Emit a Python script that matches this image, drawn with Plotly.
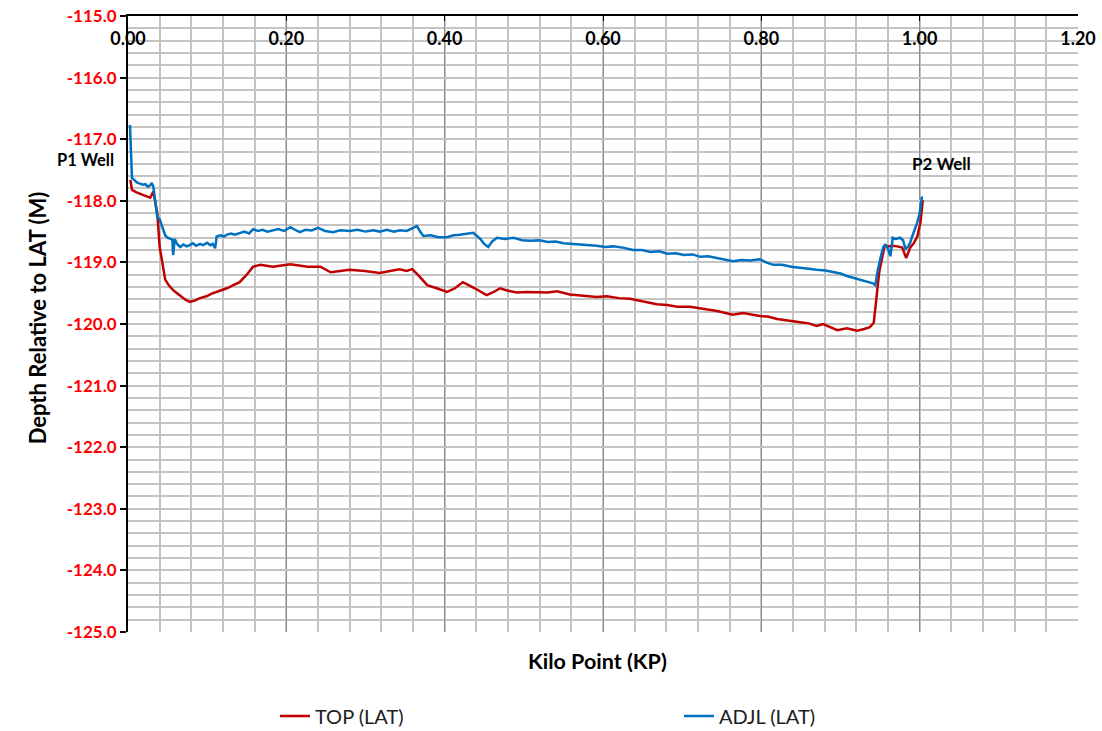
import plotly.graph_objects as go

# ---- data ----
adjl_kp = [0.0025, 0.0038, 0.005, 0.008, 0.011, 0.015, 0.019, 0.022, 0.025, 0.028, 0.030, 0.032,
           0.034, 0.037, 0.040, 0.044, 0.047, 0.050, 0.053, 0.056, 0.057, 0.059, 0.062, 0.066,
           0.070, 0.074, 0.078, 0.082, 0.086, 0.091, 0.095, 0.100, 0.104, 0.107, 0.110, 0.112,
           0.117, 0.121, 0.125, 0.130, 0.135, 0.141, 0.147, 0.153, 0.158, 0.164, 0.170, 0.176,
           0.183, 0.190, 0.197, 0.205, 0.211, 0.217, 0.224, 0.232, 0.240, 0.249, 0.259, 0.268,
           0.280, 0.290, 0.300, 0.310, 0.318, 0.327, 0.336, 0.344, 0.352, 0.360, 0.365, 0.369,
           0.373, 0.382, 0.392, 0.403, 0.411, 0.419, 0.428, 0.436, 0.445, 0.450, 0.455, 0.460,
           0.466, 0.476, 0.487, 0.498, 0.508, 0.520, 0.530, 0.540, 0.550, 0.561, 0.571, 0.582,
           0.592, 0.603, 0.613, 0.625, 0.638, 0.649, 0.660, 0.671, 0.681, 0.692, 0.702, 0.713,
           0.723, 0.733, 0.744, 0.754, 0.764, 0.775, 0.786, 0.798, 0.806, 0.815, 0.826, 0.838,
           0.849, 0.860, 0.870, 0.881, 0.891, 0.900, 0.908, 0.916, 0.926, 0.937, 0.941, 0.944,
           0.947, 0.951, 0.954, 0.957, 0.960, 0.963, 0.966, 0.970, 0.975, 0.979, 0.982, 0.985,
           0.988, 0.990, 0.994, 0.997, 1.000, 1.003]
adjl_lat = [-116.77, -117.20, -117.63, -117.66, -117.70, -117.72, -117.74, -117.73, -117.77, -117.75, -117.71, -117.77,
            -117.95, -118.26, -118.30, -118.45, -118.56, -118.60, -118.62, -118.63, -118.88, -118.62, -118.70, -118.75,
            -118.71, -118.74, -118.72, -118.69, -118.73, -118.70, -118.72, -118.68, -118.72, -118.70, -118.77, -118.58,
            -118.56, -118.58, -118.55, -118.53, -118.55, -118.52, -118.50, -118.53, -118.46, -118.49, -118.47, -118.50,
            -118.48, -118.46, -118.49, -118.43, -118.47, -118.51, -118.47, -118.48, -118.44, -118.49, -118.51, -118.48,
            -118.49, -118.47, -118.50, -118.48, -118.50, -118.47, -118.50, -118.48, -118.49, -118.44, -118.41, -118.50,
            -118.57, -118.56, -118.59, -118.59, -118.56, -118.55, -118.53, -118.52, -118.62, -118.70, -118.75, -118.66,
            -118.60, -118.62, -118.60, -118.64, -118.65, -118.64, -118.67, -118.66, -118.69, -118.70, -118.71, -118.71,
            -118.73, -118.75, -118.74, -118.76, -118.80, -118.80, -118.83, -118.82, -118.86, -118.85, -118.88, -118.87,
            -118.91, -118.90, -118.93, -118.95, -118.98, -118.96, -118.97, -118.95, -119.00, -119.04, -119.04, -119.07,
            -119.09, -119.10, -119.12, -119.13, -119.15, -119.18, -119.22, -119.25, -119.28, -119.32, -119.34, -119.37,
            -119.13, -118.90, -118.75, -118.72, -118.78, -118.90, -118.60, -118.62, -118.60, -118.64, -118.78, -118.75,
            -118.68, -118.60, -118.47, -118.35, -118.20, -117.93]

top_kp = [0.003, 0.005, 0.010, 0.015, 0.022, 0.028, 0.032, 0.037, 0.040, 0.044, 0.047, 0.052,
          0.057, 0.062, 0.068, 0.073, 0.078, 0.084, 0.091, 0.099, 0.107, 0.116, 0.125, 0.133,
          0.141, 0.150, 0.158, 0.167, 0.175, 0.183, 0.194, 0.205, 0.216, 0.227, 0.243, 0.256,
          0.268, 0.280, 0.299, 0.318, 0.331, 0.343, 0.352, 0.359, 0.366, 0.378, 0.390, 0.403,
          0.413, 0.423, 0.438, 0.453, 0.462, 0.470, 0.480, 0.491, 0.504, 0.517, 0.530, 0.542,
          0.558, 0.575, 0.592, 0.605, 0.620, 0.634, 0.650, 0.668, 0.681, 0.694, 0.710, 0.727,
          0.744, 0.764, 0.777, 0.798, 0.808, 0.820, 0.835, 0.849, 0.860, 0.870, 0.878, 0.887,
          0.896, 0.908, 0.921, 0.930, 0.937, 0.942, 0.946, 0.949, 0.952, 0.956, 0.960, 0.966,
          0.972, 0.978, 0.983, 0.988, 0.993, 0.997, 1.001, 1.004]
top_lat = [-117.66, -117.82, -117.86, -117.89, -117.92, -117.95, -117.85, -118.20, -118.75, -119.05, -119.28, -119.38,
           -119.45, -119.50, -119.56, -119.61, -119.64, -119.62, -119.58, -119.55, -119.50, -119.46, -119.42, -119.37,
           -119.32, -119.20, -119.07, -119.04, -119.06, -119.07, -119.05, -119.03, -119.05, -119.07, -119.07, -119.16,
           -119.14, -119.12, -119.14, -119.17, -119.14, -119.11, -119.14, -119.11, -119.20, -119.37, -119.42, -119.48,
           -119.42, -119.32, -119.42, -119.53, -119.48, -119.42, -119.46, -119.49, -119.48, -119.48, -119.49, -119.47,
           -119.52, -119.54, -119.56, -119.55, -119.58, -119.59, -119.63, -119.68, -119.69, -119.72, -119.72, -119.76,
           -119.79, -119.85, -119.82, -119.87, -119.88, -119.92, -119.94, -119.97, -119.99, -120.03, -120.00, -120.05,
           -120.10, -120.07, -120.11, -120.08, -120.05, -119.98, -119.50, -119.15, -118.96, -118.72, -118.74, -118.73,
           -118.74, -118.76, -118.93, -118.76, -118.68, -118.58, -118.35, -117.99]

x_ticks = [0.00, 0.20, 0.40, 0.60, 0.80, 1.00, 1.20]
y_ticks = [-125, -124, -123, -122, -121, -120, -119, -118, -117, -116, -115]

FONT = "Lato"

fig = go.Figure()
fig.add_trace(go.Scatter(x=top_kp, y=top_lat, mode="lines", name="TOP (LAT)",
                         line=dict(color="#C00000", width=2.5)))
fig.add_trace(go.Scatter(x=adjl_kp, y=adjl_lat, mode="lines", name="ADJL (LAT)",
                         line=dict(color="#0070C0", width=2.5)))

fig.update_layout(
    width=1102, height=731,
    margin=dict(l=128, r=24, t=16, b=99, autoexpand=False),
    paper_bgcolor="white", plot_bgcolor="white",
    font=dict(family=FONT, color="black"),
    showlegend=True,
    legend=dict(orientation="h", xref="container", yref="container",
                x=0.2495, xanchor="left", y=0.0205, yanchor="middle",
                font=dict(size=20, family=FONT, color="#202020"),
                entrywidth=359, entrywidthmode="pixels", traceorder="normal"),
    xaxis=dict(range=[0, 1.2], side="top", tickvals=x_ticks,
               ticktext=[f"{v:.2f}" for v in x_ticks],
               ticklabelposition="outside", ticklabelstandoff=-38,
               ticks="inside", ticklen=5, tickcolor="black",
               tickfont=dict(size=18, family=FONT, color="black", weight="bold"),
               showline=True, linecolor="black", linewidth=2, mirror=False,
               showgrid=True, gridcolor="#8C8C8C", gridwidth=1,
               minor=dict(dtick=0.04, showgrid=True, gridcolor="#C4C4C4", gridwidth=1.5),
               zeroline=False, automargin=False),
    yaxis=dict(range=[-125, -115], tickvals=y_ticks,
               ticktext=[f"{v:.1f}" for v in y_ticks],
               ticks="outside", ticklen=6, tickcolor="black", tickwidth=2,
               tickfont=dict(size=17, family=FONT, color="#FF0000", weight="bold"),
               showline=True, linecolor="black", linewidth=2,
               showgrid=True, gridcolor="#C4C4C4", gridwidth=1.5,
               minor=dict(dtick=0.2, showgrid=True, gridcolor="#C4C4C4", gridwidth=1.5),
               zeroline=False, automargin=False),
    annotations=[
        dict(text="<b>Depth Relative to LAT (M)</b>", xref="paper", yref="paper",
             x=0, y=0.51, xshift=-106, textangle=-90, showarrow=False,
             font=dict(size=22, family=FONT, color="black")),
        dict(text="<b>Kilo Point (KP)</b>", xref="paper", yref="paper",
             x=0.494, y=0, yshift=-44, showarrow=False,
             font=dict(size=21.5, family=FONT, color="black")),
        dict(text="<b>P1 Well</b>", xref="paper", yref="y", x=0, xshift=-43, y=-117.33,
             xanchor="center", showarrow=False, font=dict(size=16.5, family=FONT, color="black")),
        dict(text="<b>P2 Well</b>", xref="x", yref="y", x=1.027, y=-117.39,
             showarrow=False, font=dict(size=17, family=FONT, color="black")),
    ],
)

# remove the browser's default 8px body margin so the figure sits at the page origin
fig.write_html("out.html", config={"displayModeBar": False},
               post_script="document.body.style.margin='0';")
